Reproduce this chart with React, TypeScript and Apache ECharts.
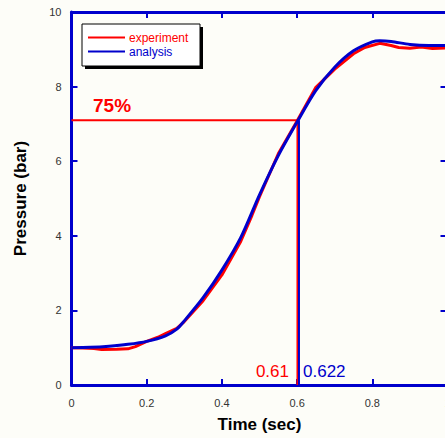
import React, { useEffect, useRef } from "react";
import * as echarts from "echarts";

const timeAnalysis = [0, 0.05, 0.1, 0.15, 0.2, 0.25, 0.28, 0.3, 0.35, 0.4, 0.45, 0.5, 0.55, 0.6, 0.65, 0.7, 0.75, 0.8, 0.82, 0.85, 0.9, 0.95, 1.0];
const pressureAnalysis = [1.0, 1.01, 1.04, 1.09, 1.17, 1.32, 1.5, 1.72, 2.34, 3.08, 3.95, 5.1, 6.15, 7.05, 7.9, 8.52, 8.96, 9.2, 9.23, 9.21, 9.13, 9.1, 9.1];

const timeExperiment = [0, 0.03, 0.06, 0.08, 0.12, 0.15, 0.17, 0.2, 0.23, 0.25, 0.28, 0.3, 0.35, 0.4, 0.45, 0.48, 0.5, 0.55, 0.6, 0.65, 0.7, 0.75, 0.78, 0.82, 0.85, 0.87, 0.9, 0.93, 0.96, 1.0];
const pressureExperiment = [1.0, 0.99, 0.98, 0.95, 0.96, 0.97, 1.03, 1.17, 1.28, 1.38, 1.52, 1.7, 2.26, 2.95, 3.85, 4.55, 5.05, 6.2, 7.08, 7.98, 8.47, 8.88, 9.05, 9.16, 9.1, 9.05, 9.03, 9.06, 9.02, 9.04];

const threshold = 7.1;
const tExperimentLine = 0.601;
const tAnalysisLine = 0.605;
const thresholdLabel = "75%";
const experimentLabel = "0.61";
const analysisLabel = "0.622";

const RED = "#ff0000";
const BLUE = "#0000cc";
const FONT = "Liberation Sans, Arial, sans-serif";

export default function App() {
  const ref = useRef<HTMLDivElement>(null);
  useEffect(() => {
    if (!ref.current) return;
    const chart = echarts.init(ref.current, undefined, { renderer: "svg" });
    const zip = (a: number[], b: number[]) => a.map((v, i) => [v, b[i]]);
    const axisLineStyle = { color: BLUE, width: 3 };
    const tickStyle = { color: BLUE, width: 2 };
    chart.setOption({
      animation: false,
      backgroundColor: "#fdfdf8",
      textStyle: { fontFamily: FONT },
      grid: { left: 71.5, right: 12.5, top: 12, bottom: 51 },
      xAxis: [
        {
          type: "value", min: 0, max: 1, interval: 0.2, position: "bottom",
          name: "Time (sec)", nameLocation: "middle", nameGap: 31,
          nameTextStyle: { fontSize: 17, fontWeight: "bold", color: "#000", fontFamily: FONT },
          axisLine: { show: true, onZero: false, lineStyle: axisLineStyle },
          axisTick: { show: true, inside: true, length: 6, lineStyle: tickStyle },
          axisLabel: { fontSize: 11, color: "#333", margin: 12, fontFamily: FONT },
          splitLine: { show: false },
        },
        {
          type: "value", min: 0, max: 1, interval: 0.2, position: "top",
          axisLine: { show: true, onZero: false, lineStyle: axisLineStyle },
          axisTick: { show: true, inside: true, length: 6, lineStyle: tickStyle },
          axisLabel: { show: false },
          splitLine: { show: false },
        },
      ],
      yAxis: [
        {
          type: "value", min: 0, max: 10, interval: 2, position: "left",
          name: "Pressure (bar)", nameLocation: "middle", nameGap: 43,
          nameTextStyle: { fontSize: 17, fontWeight: "bold", color: "#000", fontFamily: FONT },
          axisLine: { show: true, onZero: false, lineStyle: axisLineStyle },
          axisTick: { show: true, inside: true, length: 6, lineStyle: tickStyle },
          axisLabel: { fontSize: 11, color: "#333", margin: 10, fontFamily: FONT },
          splitLine: { show: false },
        },
        {
          type: "value", min: 0, max: 10, interval: 2, position: "right",
          axisLine: { show: false, onZero: false, lineStyle: axisLineStyle },
          axisTick: { show: true, inside: true, length: 7, lineStyle: tickStyle },
          axisLabel: { show: false },
          splitLine: { show: false },
        },
      ],
      series: [
        {
          name: "threshold", type: "line", showSymbol: false, symbol: "none",
          data: [[0, threshold], [tExperimentLine, threshold], [tExperimentLine, 0]],
          lineStyle: { color: RED, width: 2 }, z: 3,
        },
        {
          name: "analysis time", type: "line", showSymbol: false, symbol: "none",
          data: [[tAnalysisLine, threshold], [tAnalysisLine, 0]],
          lineStyle: { color: BLUE, width: 2 }, z: 3,
        },
        {
          name: "experiment", type: "line", showSymbol: false, symbol: "none",
          data: zip(timeExperiment, pressureExperiment),
          lineStyle: { color: RED, width: 3 }, z: 4,
        },
        {
          name: "analysis", type: "line", showSymbol: false, symbol: "none", smooth: 0.3,
          data: zip(timeAnalysis, pressureAnalysis),
          lineStyle: { color: BLUE, width: 3 }, z: 5,
        },
      ],
      graphic: [
        { type: "rect", z: 10, shape: { x: 85, y: 27, width: 118, height: 42 }, style: { fill: "#000" } },
        { type: "rect", z: 11, shape: { x: 82, y: 24, width: 118, height: 42 }, style: { fill: "#ffffff", stroke: "#000", lineWidth: 1 } },
        { type: "line", z: 12, shape: { x1: 88, y1: 37.5, x2: 125, y2: 37.5 }, style: { stroke: RED, lineWidth: 2 } },
        { type: "line", z: 12, shape: { x1: 88, y1: 51.5, x2: 125, y2: 51.5 }, style: { stroke: BLUE, lineWidth: 2 } },
        { type: "text", z: 12, x: 129, y: 37.5, style: { text: "experiment", fill: RED, font: `12px ${FONT}`, verticalAlign: "middle" } },
        { type: "text", z: 12, x: 129, y: 51.5, style: { text: "analysis", fill: BLUE, font: `12px ${FONT}`, verticalAlign: "middle" } },
        { type: "text", z: 12, x: 93, y: 105, style: { text: thresholdLabel, fill: RED, font: `bold 19px ${FONT}`, verticalAlign: "middle" } },
        { type: "text", z: 12, x: 289, y: 371.5, style: { text: experimentLabel, fill: RED, font: `17px ${FONT}`, align: "right", verticalAlign: "middle" } },
        { type: "text", z: 12, x: 303, y: 371.5, style: { text: analysisLabel, fill: BLUE, font: `17px ${FONT}`, align: "left", verticalAlign: "middle" } },
      ],
    });
    return () => chart.dispose();
  }, []);
  return (
    <div style={{ position: "fixed", left: 0, top: 0, width: 445, height: 438, overflow: "hidden", background: "#fdfdf8" }}>
      <div ref={ref} style={{ width: 460, height: 438 }} />
    </div>
  );
}
